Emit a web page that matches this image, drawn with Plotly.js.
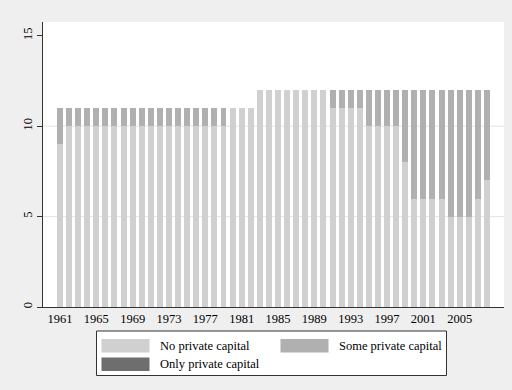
<!DOCTYPE html>
<html>
<head>
<meta charset="utf-8">
<script src="https://cdn.plot.ly/plotly-3.0.1.min.js"></script>
<style>html,body{margin:0;padding:0;background:#efefef;}#chart{width:512px;height:390px;}</style>
</head>
<body>
<div id="chart"></div>
<script>
var years = [1961,1962,1963,1964,1965,1966,1967,1968,1969,1970,1971,1972,1973,1974,1975,1976,1977,1978,1979,1980,1981,1982,1983,1984,1985,1986,1987,1988,1989,1990,1991,1992,1993,1994,1995,1996,1997,1998,1999,2000,2001,2002,2003,2004,2005,2006,2007,2008];
var noPrivate = [9,10,10,10,10,10,10,10,10,10,10,10,10,10,10,10,10,10,10,11,11,11,12,12,12,12,12,12,12,12,11,11,11,11,10,10,10,10,8,6,6,6,6,5,5,5,6,7];
var somePrivate = [2,1,1,1,1,1,1,1,1,1,1,1,1,1,1,1,1,1,1,0,0,0,0,0,0,0,0,0,0,0,1,1,1,1,2,2,2,2,4,6,6,6,6,7,7,7,6,5];
var onlyPrivate = [0,0,0,0,0,0,0,0,0,0,0,0,0,0,0,0,0,0,0,0,0,0,0,0,0,0,0,0,0,0,0,0,0,0,0,0,0,0,0,0,0,0,0,0,0,0,0,0];
var seriesNames = ["No private capital","Some private capital","Only private capital"];
var xTicks = [1961,1965,1969,1973,1977,1981,1985,1989,1993,1997,2001,2005];
var yTicks = [0,5,10,15];

var colors = ["#d0d0d0","#b0b0b0","#6e6e6e"];
var series = [noPrivate, somePrivate, onlyPrivate];
var traces = series.map(function(v,i){
  return {type:"bar", x:years, y:v, name:seriesNames[i], marker:{color:colors[i], line:{width:0}}, showlegend:false, hoverinfo:"x+y+name"};
});

// plot area in pixels: left 43, right 504, top 22, bottom 307
var L=43, R=504, T=22, B=307;
function px(X){return (X-L)/(R-L);}
function py(Y){return (B-Y)/(B-T);}

var shapes = [
  {type:"line", xref:"paper", yref:"y", x0:0, x1:1, y0:5, y1:5, line:{color:"#e4e4e4", width:1}, layer:"below"},
  {type:"line", xref:"paper", yref:"y", x0:0, x1:1, y0:10, y1:10, line:{color:"#e4e4e4", width:1}, layer:"below"},
  {type:"rect", xref:"paper", yref:"paper", x0:px(96.5), x1:px(446.5), y0:py(375.5), y1:py(331), fillcolor:"#ffffff", line:{color:"#333333", width:1}}
];
var annotations = [];
var legPos = [
  {sx:101.5, sy:339, tx:158},
  {sx:280.5, sy:339, tx:336.5},
  {sx:101.5, sy:357.5, tx:158}
];
legPos.forEach(function(p,i){
  shapes.push({type:"rect", xref:"paper", yref:"paper", x0:px(p.sx), x1:px(p.sx+48), y0:py(p.sy+13.5), y1:py(p.sy), fillcolor:colors[i], line:{width:0}});
  annotations.push({xref:"paper", yref:"paper", x:px(p.tx), y:py(p.sy+6.8), text:seriesNames[i], showarrow:false, xanchor:"left", yanchor:"middle", font:{family:"Liberation Serif", size:12.5, color:"#000"}});
});

var layout = {
  width:512, height:390,
  margin:{l:L, r:512-R, t:T, b:390-B},
  paper_bgcolor:"#efefef", plot_bgcolor:"#ffffff",
  barmode:"stack", bargap:0.34,
  showlegend:false,
  font:{family:"Liberation Serif", size:12.5, color:"#000"},
  xaxis:{range:[1959.13,2009.88], tickvals:xTicks, ticktext:xTicks.map(String), ticks:"", showgrid:false, zeroline:false, showline:true, linecolor:"#333", linewidth:1, fixedrange:true, tickfont:{family:"Liberation Serif", size:12.5}},
  yaxis:{range:[0,15.76], tickvals:yTicks, ticks:"outside", ticklen:5, tickcolor:"#333", showgrid:false, zeroline:false, showline:true, linecolor:"#333", linewidth:1, tickangle:-90, fixedrange:true, tickfont:{family:"Liberation Serif", size:12.5}},
  shapes:shapes, annotations:annotations
};
Plotly.newPlot("chart", traces, layout, {displayModeBar:false, staticPlot:true});
</script>
</body>
</html>
